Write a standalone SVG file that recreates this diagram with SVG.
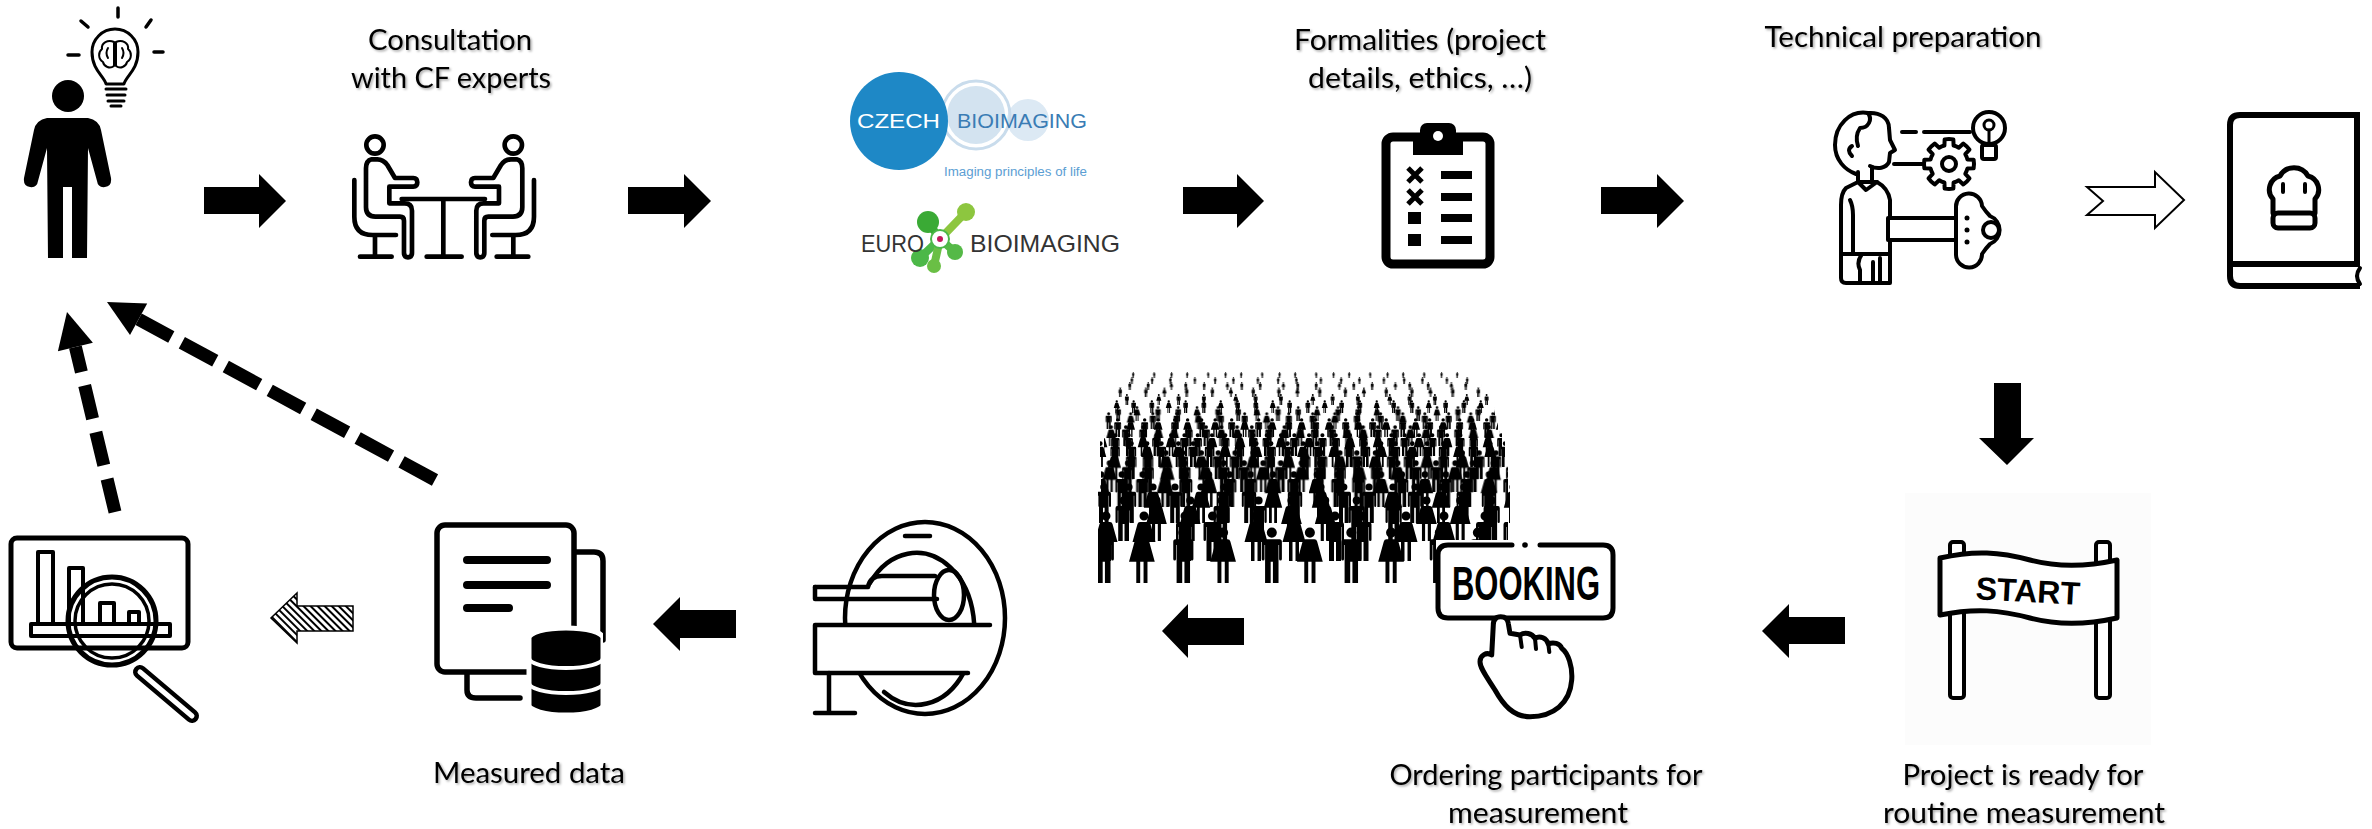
<svg xmlns="http://www.w3.org/2000/svg" xmlns:xlink="http://www.w3.org/1999/xlink" width="2372" height="829" viewBox="0 0 2372 829">
  <defs>
    <style>
      .lbl{font-family:Lato,"Open Sans","Liberation Sans",sans-serif;font-size:28px;fill:#000;text-anchor:middle;filter:url(#txtShadow)}
      .ln{fill:none;stroke:#000;stroke-linecap:round;stroke-linejoin:round}
      .lnw{fill:#fff;stroke:#000;stroke-linecap:round;stroke-linejoin:round}
      .blk{fill:#000}
      .dash{fill:none;stroke:#000;stroke-width:13;stroke-linecap:butt}
    </style>
    <filter id="txtShadow" x="-5%" y="-30%" width="112%" height="170%">
      <feDropShadow dx="1.5" dy="1.5" stdDeviation="1" flood-color="#000" flood-opacity="0.35"/>
    </filter>
    <pattern id="hatch" width="5" height="5" patternUnits="userSpaceOnUse" patternTransform="rotate(-45)">
      <rect width="5" height="5" fill="#fff"/>
      <line x1="1" y1="0" x2="1" y2="5" stroke="#000" stroke-width="2"/>
    </pattern>
    <!-- crowd pictograms, 100 units tall, centred on x=0 -->
    <path id="man" d="M0,1A9,9 0 1 1 0,19A9,9 0 1 1 0,1Z M-14,22H14Q18,22 18,27V57Q18,60 15.5,60Q13,60 13,57V32H12V100H2V62H-2V100H-12V32H-13V57Q-13,60 -15.5,60Q-18,60 -18,57V27Q-18,22 -14,22Z"/>
    <path id="woman" d="M0,1A9,9 0 1 1 0,19A9,9 0 1 1 0,1Z M-8,22H8Q12,22 13,26L23,62H10V100H3V62H-3V100H-10V62H-23L-13,26Q-12,22 -8,22Z"/>
    <!-- irregular tiles so the ranks do not line up -->
    <pattern id="tA" width="300" height="100" patternUnits="userSpaceOnUse">
      <use xlink:href="#man" x="30"/><use xlink:href="#woman" x="98"/><use xlink:href="#man" x="172"/><use xlink:href="#woman" x="243"/>
    </pattern>
    <pattern id="tB" width="300" height="100" patternUnits="userSpaceOnUse">
      <use xlink:href="#woman" x="26"/><use xlink:href="#man" x="108"/><use xlink:href="#man" x="163"/><use xlink:href="#woman" x="250"/>
    </pattern>
    <pattern id="tC" width="300" height="100" patternUnits="userSpaceOnUse">
      <use xlink:href="#man" x="48"/><use xlink:href="#woman" x="121"/><use xlink:href="#woman" x="196"/><use xlink:href="#man" x="266"/>
    </pattern>
    <pattern id="tD" width="300" height="100" patternUnits="userSpaceOnUse">
      <use xlink:href="#man" x="25"/><use xlink:href="#woman" x="85"/><use xlink:href="#man" x="140"/><use xlink:href="#woman" x="205"/><use xlink:href="#man" x="262"/>
    </pattern>
    <pattern id="tE" width="300" height="100" patternUnits="userSpaceOnUse">
      <use xlink:href="#woman" x="22"/><use xlink:href="#man" x="80"/><use xlink:href="#man" x="138"/><use xlink:href="#woman" x="200"/><use xlink:href="#man" x="258"/>
    </pattern>
    <pattern id="tM" width="400" height="100" patternUnits="userSpaceOnUse">
      <use xlink:href="#man" x="45"/><use xlink:href="#woman" x="175"/><use xlink:href="#man" x="305"/>
    </pattern>
    <pattern id="tM2" width="400" height="100" patternUnits="userSpaceOnUse">
      <use xlink:href="#woman" x="60"/><use xlink:href="#man" x="200"/><use xlink:href="#man" x="335"/>
    </pattern>
    <pattern id="tS" width="700" height="100" patternUnits="userSpaceOnUse">
      <use xlink:href="#man" x="90"/><use xlink:href="#woman" x="380"/><use xlink:href="#man" x="560"/>
    </pattern>
    <pattern id="tS2" width="700" height="100" patternUnits="userSpaceOnUse">
      <use xlink:href="#man" x="150"/><use xlink:href="#man" x="420"/><use xlink:href="#woman" x="615"/>
    </pattern>
    <pattern id="tL" width="900" height="100" patternUnits="userSpaceOnUse">
      <use xlink:href="#man" x="120"/><use xlink:href="#man" x="470"/><use xlink:href="#man" x="760"/>
    </pattern>
    <pattern id="r1" xlink:href="#tA" patternTransform="translate(1087,527) scale(0.56)"/>
    <pattern id="r2" xlink:href="#tB" patternTransform="translate(1131,511) scale(0.50)"/>
    <pattern id="r3" xlink:href="#tC" patternTransform="translate(1102,496) scale(0.45)"/>
    <pattern id="r4" xlink:href="#tD" patternTransform="translate(1119,483) scale(0.40)"/>
    <pattern id="r5" xlink:href="#tE" patternTransform="translate(1093,471) scale(0.36)"/>
    <pattern id="r6" xlink:href="#tD" patternTransform="translate(1140,460) scale(0.32)"/>
    <pattern id="r7" xlink:href="#tE" patternTransform="translate(1108,450) scale(0.29)"/>
    <pattern id="r8" xlink:href="#tD" patternTransform="translate(1125,441) scale(0.26)"/>
    <pattern id="r9" xlink:href="#tE" patternTransform="translate(1097,433) scale(0.23)"/>
    <pattern id="r10" xlink:href="#tC" patternTransform="translate(1133,425) scale(0.21)"/>
    <pattern id="r11" xlink:href="#tA" patternTransform="translate(1112,418) scale(0.19)"/>
    <pattern id="r12" xlink:href="#tM" patternTransform="translate(1101,412) scale(0.17)"/>
    <pattern id="r13" xlink:href="#tM2" patternTransform="translate(1128,406) scale(0.15)"/>
    <pattern id="r14" xlink:href="#tM" patternTransform="translate(1094,400) scale(0.13)"/>
    <pattern id="r15" xlink:href="#tS" patternTransform="translate(1117,394) scale(0.11)"/>
    <pattern id="r16" xlink:href="#tS2" patternTransform="translate(1106,387.5) scale(0.095)"/>
    <pattern id="r17" xlink:href="#tS" patternTransform="translate(1141,382) scale(0.08)"/>
    <pattern id="r18" xlink:href="#tL" patternTransform="translate(1099,377) scale(0.07)"/>
    <pattern id="r19" xlink:href="#tL" patternTransform="translate(1126,372) scale(0.06)"/>
    <clipPath id="dbClip"><rect x="420" y="500" width="183" height="230"/></clipPath>
  </defs>

  <rect width="2372" height="829" fill="#fff"/>

  <!-- researcher with an idea -->
  <g id="node-researcher">
    <circle cx="68" cy="96" r="16" class="blk"/>
    <path class="blk" d="M47,118Q36,120 34,130L24,178Q23,186 30,187Q37,188 38,181L47,148L48,258H63V187H72V258H87L88,148L97,181Q98,188 105,187Q112,186 111,178L101,130Q99,120 88,118Z"/>
    <g class="ln" stroke-width="3">
      <path d="M106,84C104,76 92,70 92,52A23,23 0 1 1 138,52C138,70 126,76 124,84Z"/>
      <path d="M106,89H126M107,95H125M108,101H124M111,106H121"/>
    </g>
    <g class="ln" stroke-width="2">
      <path d="M114,42C108,39 101,43 102,49C98,52 98,59 103,62C104,67 110,69 114,66Z"/>
      <path d="M116,42C122,39 129,43 128,49C132,52 132,59 127,62C126,67 120,69 116,66Z"/>
      <path d="M108,48Q105,53 108,58M122,48Q125,53 122,58"/>
    </g>
    <g class="ln" stroke-width="3.5">
      <path d="M118,8V17M81,21L88,27M151,20L146,27M68,55H79M154,52H163"/>
    </g>
  </g>

  <!-- consultation with core facility experts -->
  <g id="node-consultation">
    <g transform="translate(300,120) scale(0.3333)" class="ln" stroke-width="14">
      <g id="seatL">
        <circle cx="225" cy="75" r="26"/>
        <path d="M215,118Q198,122 198,145L198,262Q198,290 226,290L300,290Q312,290 312,302L312,398Q312,412 324,412Q336,412 336,398L336,272Q336,250 314,250L268,250L268,200L340,200Q352,200 352,187Q352,174 340,174L285,174L262,135Q250,118 232,118Z"/>
        <path d="M163,180V290Q163,345 218,345H288M225,345V410M180,410H275"/>
      </g>
      <use xlink:href="#seatL" transform="translate(865,0) scale(-1,1)"/>
      <path d="M305,237H555M430,237V410M380,410H485"/>
    </g>
    <text class="lbl" x="450" y="50" textLength="164" lengthAdjust="spacingAndGlyphs">Consultation</text>
    <text class="lbl" x="451" y="88" textLength="200" lengthAdjust="spacingAndGlyphs">with CF experts</text>
  </g>

  <!-- infrastructure logos -->
  <g id="node-infrastructure">
    <circle cx="1028" cy="120" r="21" fill="#dce9f4"/>
    <circle cx="976" cy="115" r="29" fill="#d3e3f0"/>
    <circle cx="976" cy="115" r="34" fill="none" stroke="#c9dcec" stroke-width="3"/>
    <circle cx="899" cy="121" r="49" fill="#1e88c6"/>
    <text x="857" y="128" font-family="'Liberation Sans',Arial,sans-serif" font-size="21" fill="#fff" textLength="83" lengthAdjust="spacingAndGlyphs">CZECH</text>
    <text x="957" y="128" font-family="'Liberation Sans',Arial,sans-serif" font-size="21" fill="#3a7cb4" textLength="130" lengthAdjust="spacingAndGlyphs">BIOIMAGING</text>
    <text x="944" y="176" font-family="'Liberation Sans',Arial,sans-serif" font-size="12.5" fill="#5b9ed3" textLength="143" lengthAdjust="spacingAndGlyphs">Imaging principles of life</text>

    <g stroke-width="8" stroke-linecap="round">
      <line x1="940" y1="239" x2="966" y2="212" stroke="#8dc63f"/>
      <line x1="940" y1="239" x2="928" y2="222" stroke="#3aaa35"/>
      <line x1="940" y1="239" x2="920" y2="258" stroke="#4cb848"/>
      <line x1="940" y1="239" x2="955" y2="252" stroke="#55b947"/>
      <line x1="940" y1="239" x2="934" y2="266" stroke="#6abf45"/>
    </g>
    <circle cx="966" cy="212" r="9" fill="#8dc63f"/>
    <circle cx="928" cy="222" r="11" fill="#3aaa35"/>
    <circle cx="920" cy="258" r="9" fill="#4cb848"/>
    <circle cx="955" cy="252" r="8" fill="#55b947"/>
    <circle cx="934" cy="266" r="7" fill="#6abf45"/>
    <circle cx="940" cy="239" r="9" fill="#fff" stroke="#4cb848" stroke-width="2"/>
    <circle cx="940" cy="239" r="3" fill="#c2185b"/>
    <text x="861" y="252" font-family="'Liberation Sans',Arial,sans-serif" font-size="24" fill="#333" textLength="63" lengthAdjust="spacingAndGlyphs">EURO</text>
    <text x="970" y="252" font-family="'Liberation Sans',Arial,sans-serif" font-size="24" fill="#333" textLength="150" lengthAdjust="spacingAndGlyphs">BIOIMAGING</text>
  </g>

  <!-- formalities clipboard -->
  <g id="node-formalities">
    <rect x="1386" y="137" width="104" height="127" rx="7" fill="none" stroke="#000" stroke-width="9"/>
    <rect x="1413" y="135" width="50" height="20" class="blk"/>
    <rect x="1420" y="123" width="36" height="18" rx="7" class="blk"/>
    <circle cx="1438" cy="136" r="5" fill="#fff"/>
    <g stroke="#000" stroke-width="5">
      <path d="M1408,168L1422,182M1422,168L1408,182M1408,190L1422,204M1422,190L1408,204"/>
    </g>
    <rect x="1408" y="212" width="13" height="12" class="blk"/>
    <rect x="1408" y="234" width="13" height="12" class="blk"/>
    <rect x="1441" y="171" width="31" height="8" class="blk"/>
    <rect x="1441" y="193" width="31" height="8" class="blk"/>
    <rect x="1441" y="214" width="31" height="8" class="blk"/>
    <rect x="1441" y="236" width="31" height="8" class="blk"/>
    <text class="lbl" x="1420" y="50" textLength="252" lengthAdjust="spacingAndGlyphs">Formalities (project</text>
    <text class="lbl" x="1420" y="88" textLength="224" lengthAdjust="spacingAndGlyphs">details, ethics, …)</text>
  </g>

  <!-- technical preparation -->
  <g id="node-technical">
    <g class="ln" stroke-width="4">
      <path d="M1868,113C1850,110 1835,125 1835,145C1835,160 1845,170 1856,174"/>
      <path d="M1868,113C1880,112 1889,118 1889,128L1890,140L1895,150L1890,153L1889,162C1886,168 1878,170 1870,166"/>
      <path d="M1868,113C1873,120 1868,128 1860,128C1856,134 1856,140 1858,146"/>
      <path d="M1852,146Q1846,150 1852,156"/>
      <path d="M1858,172V182M1872,167V180"/>
      <path d="M1858,182L1846,188Q1841,193 1841,205L1841,278Q1841,283 1846,283H1890V200Q1888,188 1877,182Z"/>
      <path d="M1858,182L1866,190L1877,182"/>
      <path d="M1850,200Q1853,206 1853,215V252"/>
      <path d="M1841,254H1890"/>
      <path d="M1862,254Q1856,262 1860,270V283M1873,262V283M1880,258V283"/>
      <path d="M1902,132H1916M1924,132H1970M1894,164H1922"/>
      <g transform="translate(1949,164)">
        <path d="M18.44,-4.60L24.62,-4.34A25,25 0 0 1 24.62,4.34L18.44,4.60A19,19 0 0 1 16.29,9.79L20.48,14.34A25,25 0 0 1 14.34,20.48L9.79,16.29A19,19 0 0 1 4.60,18.44L4.34,24.62A25,25 0 0 1 -4.34,24.62L-4.60,18.44A19,19 0 0 1 -9.79,16.29L-14.34,20.48A25,25 0 0 1 -20.48,14.34L-16.29,9.79A19,19 0 0 1 -18.44,4.60L-24.62,4.34A25,25 0 0 1 -24.62,-4.34L-18.44,-4.60A19,19 0 0 1 -16.29,-9.79L-20.48,-14.34A25,25 0 0 1 -14.34,-20.48L-9.79,-16.29A19,19 0 0 1 -4.60,-18.44L-4.34,-24.62A25,25 0 0 1 4.34,-24.62L4.60,-18.44A19,19 0 0 1 9.79,-16.29L14.34,-20.48A25,25 0 0 1 20.48,-14.34L16.29,-9.79A19,19 0 0 1 18.44,-4.60Z"/>
        <circle r="7"/>
      </g>
      <circle cx="1989" cy="128" r="16"/>
      <rect x="1982" y="145" width="14" height="14" rx="2"/>
      <circle cx="1989" cy="125" r="5" stroke-width="3"/>
      <path d="M1989,130V144" stroke-width="3"/>
    </g>
    <rect x="1888" y="218" width="70" height="22" class="lnw" stroke-width="4"/>
    <path class="lnw" stroke-width="4" d="M1956,207A13,13 0 0 1 1982,206Q1986,212 1990,216A15,15 0 0 1 1990,244Q1986,248 1982,254A13,13 0 0 1 1956,255Z"/>
    <circle cx="1991" cy="230" r="8" class="ln" stroke-width="4"/>
    <circle cx="1967" cy="218" r="2.5" class="blk"/>
    <circle cx="1967" cy="230" r="2.5" class="blk"/>
    <circle cx="1967" cy="242" r="2.5" class="blk"/>
    <text class="lbl" x="1903" y="47" textLength="277" lengthAdjust="spacingAndGlyphs">Technical preparation</text>
  </g>

  <!-- protocol book -->
  <g id="node-protocol">
    <g class="ln" stroke-width="6">
      <path d="M2360,115H2240Q2230,115 2230,125V276Q2230,286 2240,286H2360" stroke-linecap="butt"/>
      <path d="M2357,115V264M2230,264H2360" stroke-linecap="butt"/>
      <path d="M2360,268Q2354,276 2360,284" stroke-width="4"/>
      <path d="M2273,213V199A14,14 0 0 1 2280,176A16,16 0 0 1 2308,176A14,14 0 0 1 2315,199V213" stroke-width="5"/>
      <path d="M2283,184V192M2305,184V192" stroke-width="4"/>
      <rect x="2273" y="213" width="42" height="15" rx="5" stroke-width="5"/>
    </g>
  </g>

  <!-- project ready to start -->
  <g id="node-start">
    <rect x="1905" y="493" width="246" height="252" fill="#fcfcfc"/>
    <rect x="1950" y="542" width="14" height="156" rx="3" class="lnw" stroke-width="4"/>
    <rect x="2096" y="542" width="14" height="156" rx="3" class="lnw" stroke-width="4"/>
    <path class="lnw" stroke-width="5" d="M1940,558C1975,550 2000,552 2030,560C2060,568 2090,566 2117,560L2117,618C2090,624 2060,626 2030,618C2000,610 1975,608 1940,615Z"/>
    <text x="2028" y="602" font-family="'Liberation Sans',Arial,sans-serif" font-size="32" font-weight="bold" text-anchor="middle" transform="rotate(3 2028 590)">START</text>
    <text class="lbl" x="2023" y="785" textLength="241" lengthAdjust="spacingAndGlyphs">Project is ready for</text>
    <text class="lbl" x="2024" y="823" textLength="282" lengthAdjust="spacingAndGlyphs">routine measurement</text>
  </g>

  <!-- participant recruitment and booking -->
  <g id="node-booking">
    <g id="crowd">
      <rect x="1126" y="372" width="350" height="6" fill="url(#r19)"/>
      <rect x="1110" y="377" width="372" height="7" fill="url(#r18)"/>
      <rect x="1118" y="382" width="364" height="8" fill="url(#r17)"/>
      <rect x="1108" y="387.5" width="380" height="9.5" fill="url(#r16)"/>
      <rect x="1115" y="394" width="376" height="11" fill="url(#r15)"/>
      <rect x="1106" y="400" width="387" height="13" fill="url(#r14)"/>
      <rect x="1110" y="406" width="385" height="15" fill="url(#r13)"/>
      <rect x="1104" y="412" width="393" height="17" fill="url(#r12)"/>
      <rect x="1108" y="418" width="390" height="19" fill="url(#r11)"/>
      <rect x="1102" y="425" width="398" height="21" fill="url(#r10)"/>
      <rect x="1104" y="433" width="398" height="23" fill="url(#r9)"/>
      <rect x="1100" y="441" width="405" height="26" fill="url(#r8)"/>
      <rect x="1103" y="450" width="403" height="29" fill="url(#r7)"/>
      <rect x="1099" y="460" width="409" height="32" fill="url(#r6)"/>
      <rect x="1101" y="471" width="407" height="36" fill="url(#r5)"/>
      <rect x="1098" y="483" width="412" height="40" fill="url(#r4)"/>
      <rect x="1100" y="496" width="407" height="45" fill="url(#r3)"/>
      <rect x="1098" y="511" width="410" height="50" fill="url(#r2)"/>
      <rect x="1098" y="527" width="410" height="56" fill="url(#r1)"/>
    </g>
    <rect x="1436" y="540" width="190" height="185" fill="#fff"/>
    <path class="ln" stroke-width="5" d="M1512,545H1448Q1438,545 1438,555V608Q1438,618 1448,618H1603Q1613,618 1613,608V555Q1613,545 1603,545H1540"/>
    <circle cx="1525" cy="545" r="2.8" class="blk"/>
    <text x="1526" y="600" font-family="'Liberation Sans',Arial,sans-serif" font-size="48" font-weight="bold" text-anchor="middle" textLength="148" lengthAdjust="spacingAndGlyphs">BOOKING</text>
    <path class="lnw" stroke-width="5" d="M1500.7,616.7C1495,616.7 1493.3,620 1493.3,625L1491.7,655C1486.7,651.7 1480,655 1480,661.7C1480,668.3 1486.7,676.7 1495,690C1503.3,705 1513.3,716.7 1530,716.7C1553.3,716.7 1570,703.3 1571.7,680C1572.7,666.7 1568.3,653.3 1561.7,648.3C1560,643.3 1553.3,641.7 1548.3,644C1546.7,638.3 1540,635 1535,638.3C1531.7,633.3 1525,631.7 1520,635L1510,633.3L1508.3,623.3C1507.7,618.3 1505,616.7 1500.7,616.7Z"/>
    <path class="ln" stroke-width="4" d="M1520,635L1521.7,647M1535,638.3L1536,649M1548.3,644L1549.3,652"/>
    <text class="lbl" x="1546" y="785" textLength="313" lengthAdjust="spacingAndGlyphs">Ordering participants for</text>
    <text class="lbl" x="1538" y="823" textLength="180" lengthAdjust="spacingAndGlyphs">measurement</text>
  </g>

  <!-- scanner session -->
  <g id="node-scanner">
    <g class="ln" stroke-width="4.5">
      <ellipse cx="925" cy="618" rx="80" ry="96"/>
      <path d="M870,583A58,76 0 1 1 884,692"/>
      <path d="M905,536H930"/>
      <path d="M815,587H868Q870,576 882,576H935"/>
      <path d="M815,599H937M815,587V599"/>
      <ellipse cx="949" cy="595" rx="15" ry="25"/>
    </g>
    <path class="lnw" stroke-width="4.5" d="M990,625H815V673H968"/>
    <path class="ln" stroke-width="4.5" d="M829,673V713M815,713H855"/>
  </g>

  <!-- measured data -->
  <g id="node-data">
    <g class="ln" stroke-width="5.5">
      <path d="M567,552H594Q603,552 603,561V640"/>
      <path d="M467,672V690Q467,698 476,698H520"/>
      <rect x="437" y="525" width="137" height="147" rx="8" fill="#fff"/>
      <path d="M467,560H547M467,585H547M467,608H509" stroke-width="8"/>
    </g>
    <g clip-path="url(#dbClip)">
      <path d="M529,638A37,10 0 0 1 603,638V705A37,10 0 0 1 529,705Z" fill="#000" stroke="#fff" stroke-width="5"/>
      <path d="M529,658A37,10 0 0 0 603,658M529,683A37,10 0 0 0 603,683" fill="none" stroke="#fff" stroke-width="4"/>
    </g>
    <text class="lbl" x="529" y="783" textLength="192" lengthAdjust="spacingAndGlyphs">Measured data</text>
  </g>

  <!-- analysis of results -->
  <g id="node-analysis">
    <g class="ln" stroke-width="5">
      <rect x="11" y="538" width="177" height="110" rx="6"/>
    </g>
    <g class="lnw" stroke-width="4">
      <rect x="38" y="552" width="15" height="73"/>
      <rect x="69" y="568" width="14" height="57"/>
      <rect x="100" y="603" width="14" height="22"/>
      <rect x="129" y="612" width="10" height="13"/>
      <rect x="31" y="624" width="139" height="12"/>
    </g>
    <g class="ln">
      <circle cx="112" cy="621" r="44" stroke-width="5"/>
      <circle cx="112" cy="621" r="37" stroke-width="3.5"/>
      <path d="M140,672L192,716" stroke-width="14"/>
      <path d="M140,672L192,716" stroke="#fff" stroke-width="5"/>
    </g>
  </g>

  <!-- process flow connectors -->
  <g id="connectors">
    <path class="blk" d="M204,187H259V174L286,201L259,228V214H204Z"/>
    <path class="blk" d="M628,187H684V174L711,201L684,228V214H628Z"/>
    <path class="blk" d="M1183,187H1237V174L1264,201L1237,228V214H1183Z"/>
    <path class="blk" d="M1601,187H1657V174L1684,201L1657,228V214H1601Z"/>
    <path fill="#fff" stroke="#000" stroke-width="2" d="M2087,187H2155V172L2184,200L2155,228V215H2087L2103,201Z"/>
    <path class="blk" d="M1994,383H2021V438H2034L2007,465L1979,438H1994Z"/>
    <path class="blk" d="M1845,617H1789V604L1762,631L1789,658V644H1845Z"/>
    <path class="blk" d="M1244,618H1188V604L1162,631L1188,658V645H1244Z"/>
    <path class="blk" d="M736,610H680V597L653,624L680,651V638H736Z"/>
    <path fill="url(#hatch)" stroke="#000" stroke-width="1.5" d="M353,606H297V593L271,618L297,643V631H353Z"/>
    <line class="dash" x1="115" y1="512" x2="75.4" y2="347" stroke-dasharray="34 14"/>
    <path class="blk" d="M67,312L92.9,342.8L57.9,351.2Z"/>
    <line class="dash" x1="435" y1="480" x2="138.6" y2="319.2" stroke-dasharray="38 12"/>
    <path class="blk" d="M107,302L147.2,303.4L130,335Z"/>
  </g>
</svg>
